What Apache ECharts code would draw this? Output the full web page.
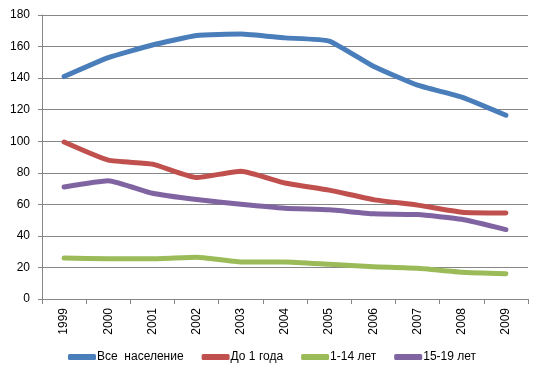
<!DOCTYPE html>
<html>
<head>
<meta charset="utf-8">
<script src="https://cdn.jsdelivr.net/npm/echarts@6/dist/echarts.min.js"></script>
<style>
  html, body { margin: 0; padding: 0; background: #fff; }
  #chart { width: 544px; height: 377px; }
</style>
</head>
<body>
<div id="chart"></div>
<script>
var years = ['1999', '2000', '2001', '2002', '2003', '2004', '2005', '2006', '2007', '2008', '2009']
var allPop = [141, 153, 161, 167, 168, 165.5, 163.5, 147.5, 135.5, 128, 116.5]
var under1 = [99.5, 88, 85.5, 77, 81, 73.5, 69, 63, 59.5, 55, 54.5]
var age1to14 = [26, 25.5, 25.5, 26.5, 23.5, 23.5, 22, 20.5, 19.5, 17, 16]
var age15to19 = [71, 75, 67, 63, 60, 57.5, 56.5, 54, 53.5, 50.5, 44]
var names = ['Все  население', 'До 1 года', '1-14 лет', '15-19 лет']
var colors = ['#4A7EBB', '#C0504D', '#9BBB59', '#8064A2']

var font = '"Liberation Sans", Arial, sans-serif'

function line (name, data, color) {
  return {
    name: name,
    type: 'line',
    data: data,
    symbol: 'none',
    smooth: 0.15,
    lineStyle: { color: color, width: 5, cap: 'round', join: 'round' },
    itemStyle: { color: color }
  }
}

var chart = echarts.init(document.getElementById('chart'), null, { renderer: 'canvas' })
chart.setOption({
  animation: false,
  textStyle: { fontFamily: font },
  grid: { left: 42, right: 16, top: 15, bottom: 78, containLabel: false },
  legend: {
    bottom: 9,
    left: 'center',
    icon: 'roundRect',
    itemWidth: 28,
    itemHeight: 6,
    itemGap: 18,
    textStyle: { fontFamily: font, fontSize: 12, color: '#000', padding: [0, 0, 0, -4] },
    data: names
  },
  xAxis: {
    type: 'category',
    data: years,
    boundaryGap: true,
    axisLine: { lineStyle: { color: '#868686' } },
    axisTick: { show: true, length: 5, lineStyle: { color: '#868686' } },
    axisLabel: { rotate: 90, fontSize: 12, color: '#000', margin: 9, fontFamily: font }
  },
  yAxis: {
    type: 'value',
    min: 0,
    max: 180,
    interval: 20,
    axisLine: { show: true, lineStyle: { color: '#868686' } },
    axisTick: { show: true, length: 4, lineStyle: { color: '#868686' } },
    axisLabel: { fontSize: 12, color: '#000', margin: 12, fontFamily: font },
    splitLine: { lineStyle: { color: '#868686' } }
  },
  series: [
    line(names[0], allPop, colors[0]),
    line(names[1], under1, colors[1]),
    line(names[2], age1to14, colors[2]),
    line(names[3], age15to19, colors[3])
  ]
})
</script>
</body>
</html>
